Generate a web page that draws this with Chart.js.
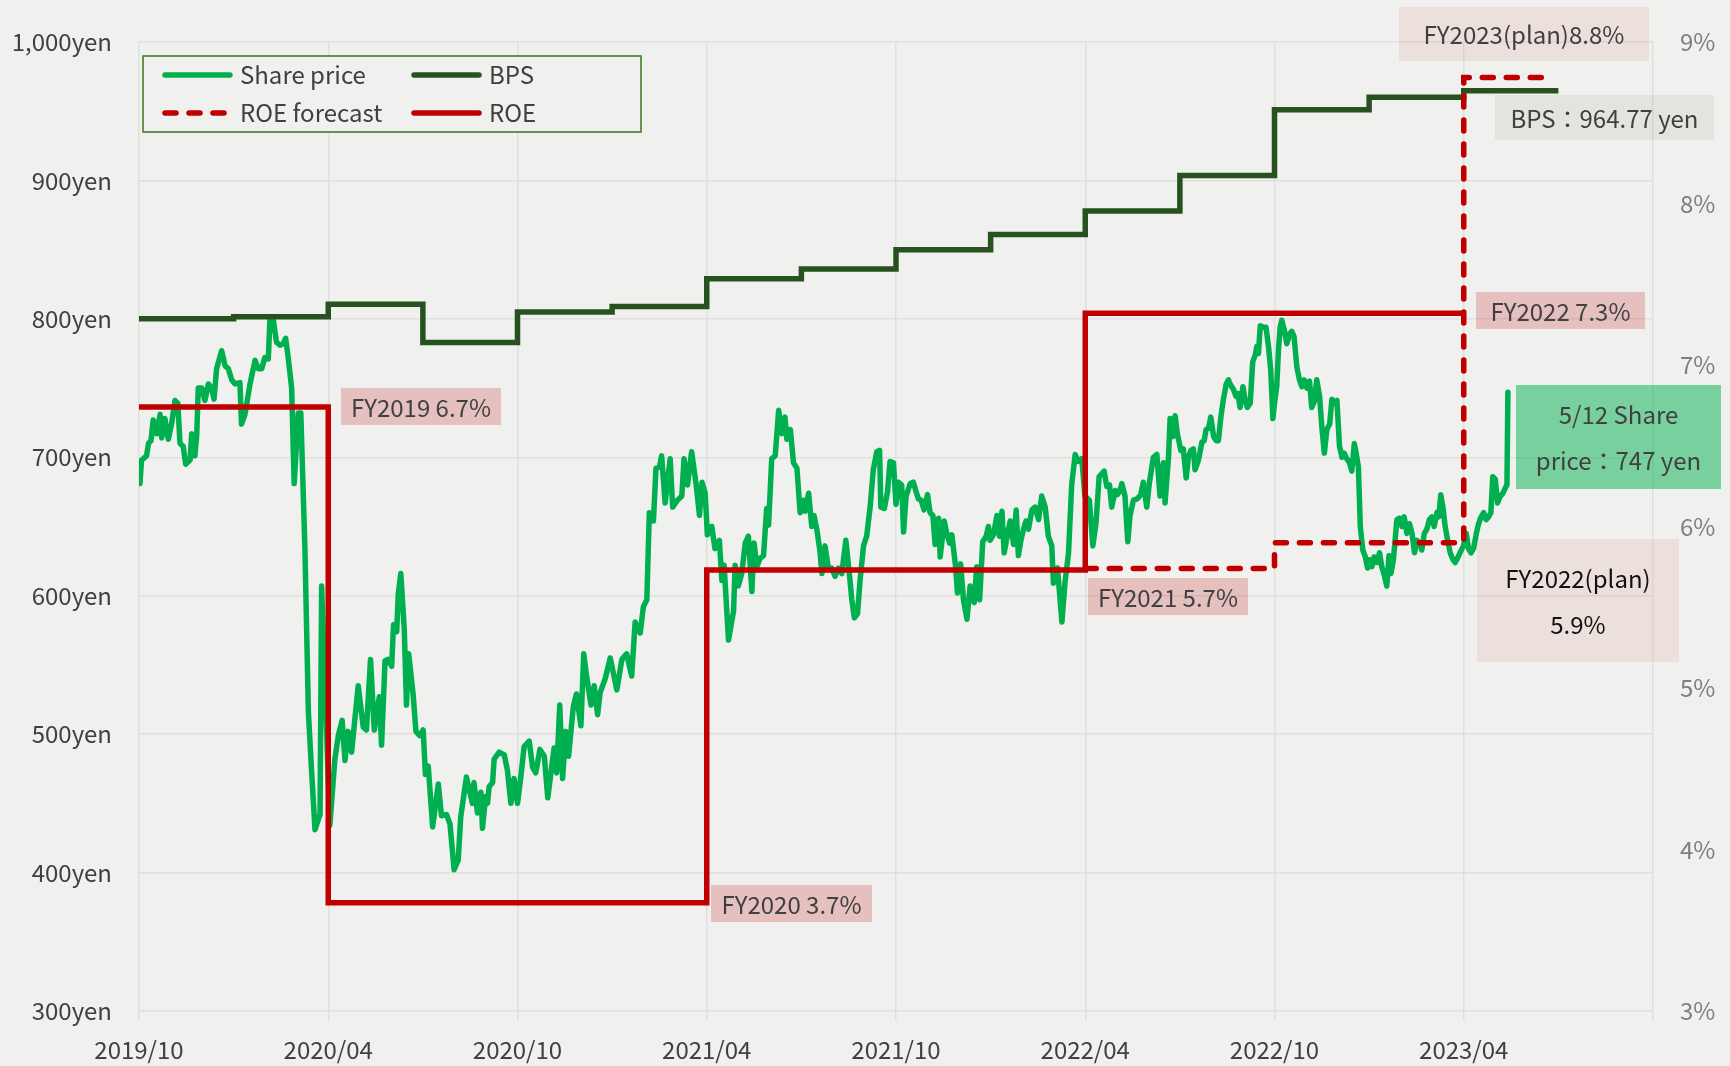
<!DOCTYPE html>
<html><head><meta charset="utf-8">
<script src="https://cdn.jsdelivr.net/npm/chart.js@4"></script>
<style>html,body{margin:0;padding:0;background:#F0F0EE;}canvas{display:block;}</style>
</head><body>
<canvas id="c" width="1730" height="1066"></canvas>
<script>
// ---- data (x = months since 2019/10) ----
const xTickLabels = ["2019/10","2020/04","2020/10","2021/04","2021/10","2022/04","2022/10","2023/04",""];

const priceMonths = [0.03,0.08,0.24,0.30,0.38,0.45,0.56,0.67,0.72,0.82,0.93,1.04,1.14,1.23,1.30,1.40,1.48,1.62,1.67,1.77,1.83,1.88,1.99,2.09,2.20,2.30,2.38,2.46,2.62,2.73,2.83,2.94,3.04,3.20,3.25,3.36,3.52,3.68,3.78,3.89,3.99,4.10,4.15,4.26,4.36,4.47,4.57,4.65,4.73,4.84,4.92,5.05,5.13,5.26,5.37,5.47,5.58,5.74,5.79,6.05,6.21,6.32,6.44,6.53,6.63,6.74,6.84,6.95,7.11,7.21,7.34,7.46,7.62,7.69,7.80,7.90,8.01,8.07,8.17,8.22,8.30,8.41,8.48,8.55,8.69,8.78,8.90,9.01,9.08,9.17,9.31,9.49,9.59,9.75,9.86,9.99,10.12,10.20,10.38,
10.49,10.57,10.62,10.73,10.84,10.89,10.99,11.05,11.10,11.21,11.26,11.42,11.58,11.68,11.79,11.89,12.00,12.11,12.21,12.37,12.48,12.58,12.71,12.85,12.96,13.06,13.16,13.24,13.34,13.43,13.53,13.62,13.77,13.87,14.01,14.10,14.19,14.33,14.43,14.54,
14.62,14.78,14.94,15.15,15.31,15.46,15.62,15.73,15.89,15.99,16.10,16.18,16.31,16.39,16.50,16.57,16.68,16.84,16.92,17.07,17.21,17.28,17.39,17.52,17.66,17.77,17.85,17.95,18.02,18.16,18.26,18.40,18.48,18.55,18.69,18.85,18.90,19.00,19.11,19.22,19.32,19.43,19.50,19.59,19.69,19.80,19.90,19.96,20.06,20.17,20.28,20.38,20.48,20.54,20.65,20.75,20.86,20.96,21.07,21.12,21.23,21.33,21.40,21.49,21.59,21.65,21.75,21.86,21.96,22.07,22.17,22.28,22.41,22.52,22.60,22.68,22.78,22.86,22.97,23.07,23.18,23.28,23.39,23.48,23.52,23.63,23.73,23.81,23.92,24.00,24.08,24.18,24.24,24.32,24.45,24.55,24.64,24.71,24.80,24.89,25.00,25.08,25.17,25.24,25.35,25.40,25.53,25.61,25.70,25.77,25.88,25.95,26.05,26.14,26.25,26.35,26.48,26.56,26.65,26.75,26.86,26.93,26.98,27.09,27.20,27.28,27.36,27.43,27.54,27.62,27.73,27.81,27.88,27.96,28.04,28.12,28.20,28.31,28.41,28.52,28.62,28.73,28.83,28.94,28.99,29.12,29.26,29.36,29.47,
29.57,29.68,29.78,29.89,29.99,30.13,30.24,30.34,30.44,30.52,30.60,30.68,30.77,30.84,30.95,31.02,31.10,31.16,31.26,31.35,31.42,31.53,31.65,31.76,31.84,31.95,32.03,
32.16,32.27,32.37,32.48,32.53,32.64,32.69,32.78,32.85,32.92,33.03,33.11,33.20,33.27,33.35,33.43,33.48,33.59,33.70,33.77,33.83,33.91,33.98,34.07,34.15,34.22,34.30,34.38,34.47,34.54,34.59,34.70,34.78,34.84,34.91,35.00,35.07,35.14,35.23,35.31,35.39,35.44,35.49,35.55,35.65,35.73,35.81,35.88,35.95,36.00,36.07,36.13,36.18,36.23,36.31,36.39,36.48,36.55,36.62,36.71,36.79,36.87,36.94,37.03,37.11,37.18,37.26,37.34,37.43,37.50,37.58,37.66,37.75,37.82,37.89,37.98,38.06,38.14,38.21,38.29,38.38,38.45,38.53,38.59,38.66,38.72,38.80,38.88,38.95,39.01,39.09,39.16,39.25,39.33,39.40,39.49,39.56,39.63,39.69,39.77,39.88,39.96,40.04,40.11,40.20,40.28,40.36,40.44,40.51,40.60,40.67,40.75,40.83,40.91,40.99,41.06,41.15,41.21,41.27,41.34,41.41,41.49,41.57,41.66,41.73,41.80,41.88,41.99,42.08,42.15,42.23,42.31,42.40,42.47,42.55,42.63,42.71,42.79,42.86,42.92,43.00,43.07,43.16,43.24,43.32,43.37,43.40];

const priceValues = [681,698,701,710,712,727,717,731,714,728,713,725,741,739,710,708,695,698,717,701,716,750,750,741,753,750,742,764,777,766,764,756,753,754,724,731,753,770,764,764,772,771,799,799,783,781,782,786,772,750,681,732,732,634,516,474,431,442,607,434,482,499,510,481,502,487,510,535,505,503,554,503,527,492,553,554,549,579,574,601,616,576,521,558,529,502,499,503,471,477,433,464,441,442,435,402,409,440,469,
458,450,465,443,458,432,455,450,462,465,482,487,485,474,450,468,450,470,491,495,476,472,489,484,454,472,490,472,521,468,502,484,520,529,506,558,542,521,535,514,
530,540,555,532,554,558,542,581,573,592,597,660,654,692,693,701,667,699,664,669,672,699,680,704,681,658,682,674,644,650,634,640,611,622,568,589,622,607,616,638,643,603,638,621,627,629,663,651,699,701,734,717,729,713,720,696,692,660,669,661,674,650,658,648,632,616,636,619,620,614,620,616,640,616,597,584,587,611,636,643,664,691,704,705,664,663,675,697,696,666,682,680,646,672,681,682,675,670,669,662,673,660,658,637,656,628,654,645,638,644,623,602,623,597,583,607,595,621,597,639,643,650,640,644,658,643,661,631,645,654,637,662,629,640,648,654,648,662,664,655,672,664,643,636,609,620,581,610,631,
680,702,697,699,672,669,636,652,686,688,690,679,680,664,676,673,676,681,672,639,658,669,670,673,682,664,681,
700,702,672,696,667,700,728,715,730,717,705,706,685,700,705,706,691,698,711,712,720,721,729,715,712,712,729,742,753,756,753,749,744,746,736,751,741,736,739,769,774,780,775,795,794,794,780,763,728,739,751,779,794,799,792,782,789,791,787,765,756,751,756,750,755,736,740,756,744,722,703,720,724,742,739,741,708,700,703,699,696,690,710,703,693,650,633,628,620,626,621,628,624,631,621,614,607,629,616,626,655,656,650,657,645,652,645,631,640,638,633,645,648,655,657,650,660,657,673,664,650,640,631,626,624,627,631,636,645,634,631,634,645,652,657,660,655,657,660,686,684,667,672,674,678,680,747];

const bpsMonths = [0,3,6,9,12,15,18,21,24,27,30,33,36,39,42,45];
const bpsValues = [800,801.5,810.5,783,805,809,829,836,850,861,878,903.5,951,960,964.77,964.77];

const roeMonths = [0,6,18,30,42];
const roeValues = [6.74,3.67,5.73,7.32,7.32];

const roeForecastMonths = [30,36,42,44.8];
const roeForecastValues = [5.74,5.90,8.78,8.78];

// ---- styling ----
const BG = '#F0F0EE';
const GRID = '#DFDFDD';
const FONT = '"Noto Sans CJK JP", "Noto Sans", sans-serif';
const TEXT = '#404040';
const LW = 5.5;

const pts = (xs, ys) => xs.map((x, i) => ({x, y: ys[i]}));

const annotations = [
  {lines:['FY2019 6.7%'], box:[341,388,160,37], bg:'rgba(192,0,0,0.2)', color:TEXT},
  {lines:['FY2020 3.7%'], box:[711,885,161,37], bg:'rgba(192,0,0,0.2)', color:TEXT},
  {lines:['FY2021 5.7%'], box:[1088,578,160,37], bg:'rgba(192,0,0,0.2)', color:TEXT},
  {lines:['FY2022 7.3%'], box:[1476,292,169,37], bg:'rgba(192,0,0,0.2)', color:TEXT},
  {lines:['FY2023(plan)8.8%'], box:[1399,7,250,54], bg:'rgba(200,90,70,0.1)', color:TEXT},
  {lines:['BPS：964.77 yen'], box:[1495,95,219,45], bg:'rgba(60,60,40,0.07)', color:TEXT},
  {lines:['5/12 Share','price：747 yen'], box:[1516,385,205,104], bg:'rgba(0,176,80,0.5)', color:TEXT},
  {lines:['FY2022(plan)','5.9%'], box:[1477,539,202,123], bg:'rgba(200,90,70,0.1)', color:'#111111'}
];

const legendItems = [
  {label:'Share price', x:163, y:75},
  {label:'BPS', x:412, y:75},
  {label:'ROE forecast', x:163, y:113},
  {label:'ROE', x:412, y:113}
];

const bgPlugin = {
  id:'bg',
  beforeDraw(chart){
    const c = chart.ctx; c.save(); c.fillStyle = BG; c.fillRect(0,0,chart.width,chart.height); c.restore();
  }
};

const annoPlugin = {
  id:'anno',
  afterDatasetsDraw(chart){
    const c = chart.ctx;
    c.save();
    c.font = `24px ${FONT}`;
    c.textAlign = 'center';
    c.textBaseline = 'middle';
    annotations.forEach(a => {
      const [x,y,w,h] = a.box;
      c.fillStyle = a.bg; c.fillRect(x,y,w,h);
      c.fillStyle = a.color;
      const n = a.lines.length, lh = 46;
      a.lines.forEach((t,i) => {
        c.fillText(t, x + w/2, y + h/2 + (i - (n-1)/2) * lh + 1);
      });
    });
    c.restore();
  },
  afterDraw(chart){
    const c = chart.ctx;
    c.save();
    c.fillStyle = BG;
    c.fillRect(143,56,498,76);
    c.strokeStyle = '#38761D'; c.lineWidth = 1.5;
    c.strokeRect(143,56,498,76);
    c.font = `24px ${FONT}`;
    c.textAlign = 'left'; c.textBaseline = 'middle';
    legendItems.forEach(it => {
      const ds = chart.data.datasets.find(d => d.label === it.label);
      c.strokeStyle = ds.borderColor; c.lineWidth = ds.borderWidth;
      c.lineCap = 'round';
      c.setLineDash(ds.borderDash || []);
      c.beginPath(); c.moveTo(it.x + 2, it.y); c.lineTo(it.x + 67, it.y); c.stroke();
      c.setLineDash([]);
      c.fillStyle = TEXT;
      c.fillText(it.label, it.x + 77, it.y);
    });
    c.restore();
  }
};

function build(){
  new Chart(document.getElementById('c'), {
    type:'line',
    data:{
      datasets:[
        {label:'ROE', data:pts(roeMonths, roeValues), yAxisID:'y1', borderColor:'#C00000', borderWidth:LW, stepped:true, order:1},
        {label:'ROE forecast', data:pts(roeForecastMonths, roeForecastValues), yAxisID:'y1', borderColor:'#C00000', borderWidth:LW, borderDash:[11,13], borderCapStyle:'round', stepped:true, order:2},
        {label:'BPS', data:pts(bpsMonths, bpsValues), yAxisID:'y', borderColor:'#27521F', borderWidth:LW, stepped:true, order:3},
        {label:'Share price', data:pts(priceMonths, priceValues), yAxisID:'y', borderColor:'#00B050', borderWidth:LW, borderJoinStyle:'round', borderCapStyle:'round', order:4}
      ]
    },
    options:{
      responsive:false, animation:false, devicePixelRatio:1,
      layout:{padding:{top:42,left:0,right:0,bottom:0}},
      elements:{point:{radius:0}, line:{tension:0, fill:false}},
      plugins:{legend:{display:false}, tooltip:{enabled:false}},
      scales:{
        x:{type:'linear', min:0, max:48,
          ticks:{stepSize:6, autoSkip:false, maxRotation:0, padding:14, color:TEXT, font:{family:FONT, size:24},
            callback:(v)=> xTickLabels[Math.round(v/6)] ?? ''},
          grid:{color:GRID, lineWidth:1.5, tickLength:10, drawTicks:true},
          border:{display:false},
          afterFit(s){ s.height = 55; }
        },
        y:{position:'left', min:300, max:1000,
          ticks:{stepSize:100, padding:27, color:TEXT, font:{family:FONT, size:24},
            callback:(v)=> v.toLocaleString('en-US') + 'yen'},
          grid:{color:GRID, lineWidth:1.5, drawTicks:false},
          border:{display:false},
          afterFit(s){ s.width = 139; }
        },
        y1:{position:'right', min:3, max:9,
          ticks:{stepSize:1, padding:27, color:'#7F7F7F', font:{family:FONT, size:24},
            callback:(v)=> v + '%'},
          grid:{drawOnChartArea:false, drawTicks:false},
          border:{display:false},
          afterFit(s){ s.width = 77; }
        }
      }
    },
    plugins:[bgPlugin, annoPlugin]
  });
}
if (document.fonts && document.fonts.load) {
  document.fonts.load(`24px "Noto Sans CJK JP"`).then(build, build);
} else build();
</script>
</body></html>
